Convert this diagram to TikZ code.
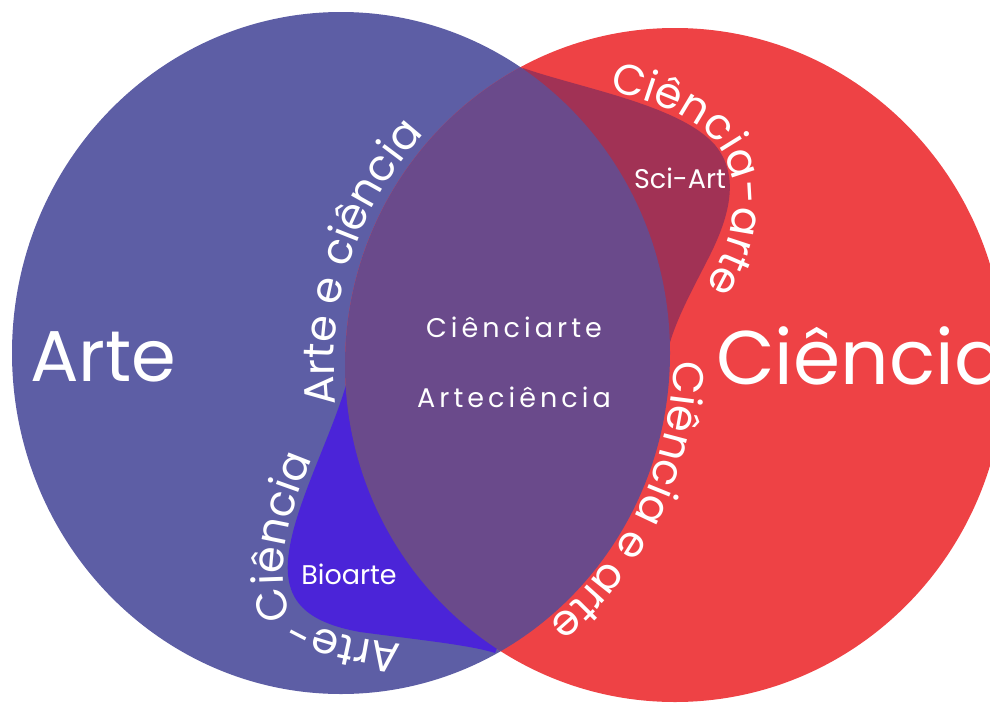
\documentclass[tikz,border=0pt]{standalone}
\usepackage{fontspec}
\setmainfont{Poppins}
\newfontfamily\spacedfont{Poppins}[LetterSpace=15]
\usetikzlibrary{decorations.text}
\definecolor{artblue}{HTML}{5D5EA5}
\definecolor{scired}{HTML}{EE4245}
\definecolor{lenscol}{HTML}{6A4A8B}
\definecolor{bioblue}{HTML}{4B24D8}
\definecolor{sciartcol}{HTML}{A13255}
\begin{document}
\begin{tikzpicture}[x=1pt,y=-1pt,
  curved/.style={decorate, decoration={text along path, text align=center, text color=white,
     text={|\fontsize{43}{50}\selectfont|#1}}},
  bigname/.style={text=white, font=\fontsize{72}{80}\selectfont, inner sep=0pt, anchor=base west},
  midlabel/.style={text=white, font=\spacedfont\fontsize{27}{32}\selectfont, inner sep=0pt, anchor=base},
  smalllabel/.style={text=white, font=\fontsize{27}{32}\selectfont, inner sep=0pt, anchor=base},
]
\useasboundingbox (0,0) rectangle (990,704);
\clip (0,0) rectangle (990,704);
% circles
\fill[artblue] (341,353) ellipse [x radius=329, y radius=341];
\fill[scired] (675,365) ellipse [x radius=330, y radius=337];
% Bioarte blob
\fill[bioblue] (346,385) .. controls (330,440) and (292,510) .. (288,560)
   .. controls (285,600) and (305,622) .. (360,632)
   .. controls (420,640) and (470,645) .. (495,653) -- (560,500) -- cycle;
% Sci-Art blob
\fill[sciartcol] (523,68) .. controls (580,88) and (680,105) .. (715,145)
   .. controls (740,175) and (730,215) .. (710,255)
   .. controls (695,285) and (675,320) .. (668,350) -- (600,250) -- cycle;
% lens
\begin{scope}
  \clip (341,353) ellipse [x radius=329, y radius=341];
  \fill[lenscol] (675,365) ellipse [x radius=330, y radius=337];
\end{scope}
% straight labels
\node[bigname] (arte) at (30,381) {Arte};
\node[bigname, font=\fontsize{76}{84}\selectfont] (ciencia) at (716,384) {Ciência};
\node[midlabel] (cienciarte) at (514,337) {Ciênciarte};
\node[midlabel] (arteciencia) at (514,407) {Arteciência};
\node[smalllabel] (sciart) at (680,188) {Sci-Art};
\node[smalllabel] (bioarte) at (349,584) {Bioarte};
% curved labels
\path[curved={Arte e ciência}] (675,365) ++(162:341) arc[start angle=162, end angle=234, radius=341];
\path[curved={Ciência e arte}] (341,353) ++(-10:333 and 345) arc[start angle=-10, end angle=63, x radius=333, y radius=345];
\path[curved={Ciência-arte}] (560,80) .. controls (640,95) and (702,112) .. (724,155)
   .. controls (742,192) and (734,232) .. (716,268) .. controls (706,288) and (694,308) .. (682,332);
\path[curved={Arte-Ciência}] (470,655) .. controls (400,642) and (330,640) .. (295,615)
   .. controls (275,598) and (282,540) .. (300,490) .. controls (312,458) and (326,425) .. (340,395);
\end{tikzpicture}
\end{document}
